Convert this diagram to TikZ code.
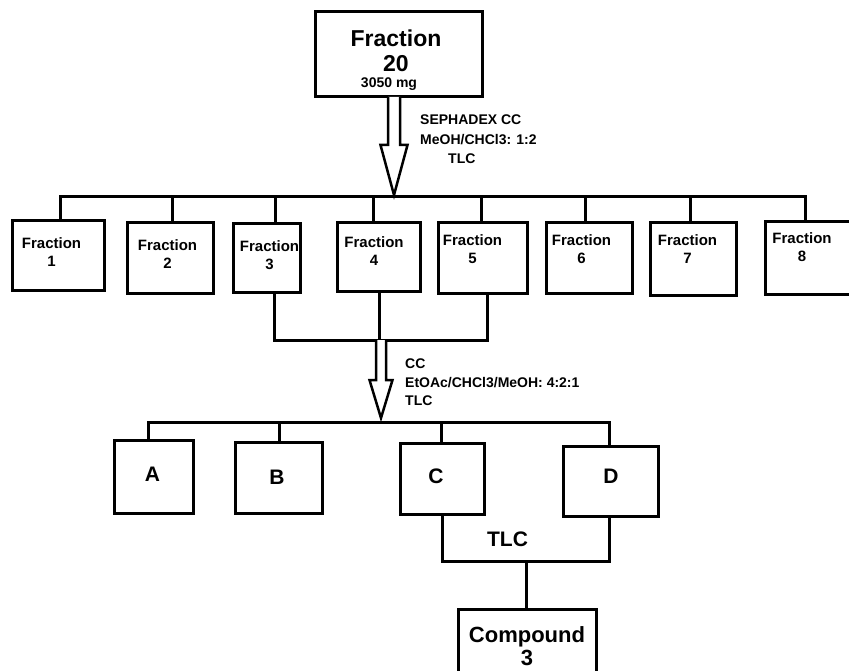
\documentclass[tikz,border=0pt]{standalone}
\usepackage{fontspec}
\setmainfont{Liberation Sans}
\usetikzlibrary{calc}

\begin{document}
\begin{tikzpicture}[x=1pt, y=-1pt,
	box/.style={draw, line width=3pt, inner sep=0pt},
	wire/.style={line width=3pt, line cap=rect},
	hollow/.style={draw, line width=2.5pt, fill=white},
	frac/.style={font=\fontsize{15}{18}\selectfont\bfseries, align=center, anchor=north, inner sep=0pt},
	note/.style={font=\fontsize{14}{19.5}\selectfont\bfseries, align=left, anchor=north west, inner sep=0pt},
	big/.style={font=\fontsize{21}{25}\selectfont\bfseries, inner sep=0pt}]

	\useasboundingbox (0,0) rectangle (849,671);
	\clip (0,0) rectangle (849,671);

	% starting fraction
	\node[box, minimum width=167pt, minimum height=85pt] (top) at (398.5,54.5) {};
	\node[font=\fontsize{23}{25}\selectfont\bfseries, align=center, anchor=north, inner sep=0pt] (topname) at (396,30) {Fraction\\20};
	\node[note, anchor=base] (topmass) at (389,88) {3050 mg};

	\coordinate (arr1) at (394,97);
	\coordinate (tip1) at (394,195);
	\draw[hollow] ($(arr1)+(-6,0)$) -- ($(arr1)+(-6,48)$) -- ($(arr1)+(-13.5,48)$) -- (tip1)
		-- ($(arr1)+(13.5,48)$) -- ($(arr1)+(6,48)$) -- ($(arr1)+(6,0)$);
	\node[note] (step1) at (420,115) {SEPHADEX CC\\MeOH/CHCl3: 1:2\\\hspace{28pt}TLC};

	% first column
	\node[box, minimum width=92pt, minimum height=69pt] (f1) at (58,255.5) {};
	\node[box, minimum width=86pt, minimum height=70pt] (f2) at (170,258) {};
	\node[box, minimum width=67pt, minimum height=68pt] (f3) at (266.5,258) {};
	\node[box, minimum width=83pt, minimum height=68pt] (f4) at (378.5,257) {};
	\node[box, minimum width=89pt, minimum height=70pt] (f5) at (482.5,258) {};
	\node[box, minimum width=86pt, minimum height=70pt] (f6) at (589,258) {};
	\node[box, minimum width=86pt, minimum height=72pt] (f7) at (693,259) {};
	\node[box, minimum width=105pt, minimum height=72pt] (f8) at (817.5,258) {};

	\node[frac] (f1t) at (51.5,237.5) {Fraction\\1};
	\node[frac] (f2t) at (167.5,239) {Fraction\\2};
	\node[frac] (f3t) at (269.5,240) {Fraction\\3};
	\node[frac] (f4t) at (374,236.5) {Fraction\\4};
	\node[frac] (f5t) at (472.5,234) {Fraction\\5};
	\node[frac] (f6t) at (581.5,234) {Fraction\\6};
	\node[frac] (f7t) at (687.5,234) {Fraction\\7};
	\node[frac] (f8t) at (802,232) {Fraction\\8};

	\draw[wire] (60,197) -- (805,197);
	\draw[wire] (60,197) -- (60,197 |- f1.north);
	\draw[wire] (172,197) -- (172,197 |- f2.north);
	\draw[wire] (275,197) -- (275,197 |- f3.north);
	\draw[wire] (373,197) -- (373,197 |- f4.north);
	\draw[wire] (481,197) -- (481,197 |- f5.north);
	\draw[wire] (585,197) -- (585,197 |- f6.north);
	\draw[wire] (690,197) -- (690,197 |- f7.north);
	\draw[wire] (805,197) -- (805,197 |- f8.north);

	% pooled fractions 3-5
	\draw[wire] (274,0 |- f3.south) -- (274,340) -- (487,340) -- (487,0 |- f5.south);
	\draw[wire] (379,0 |- f4.south) -- (379,340);

	\coordinate (arr2) at (381,340);
	\coordinate (tip2) at (381,418);
	\draw[hollow] ($(arr2)+(-5,0)$) -- ($(arr2)+(-5,40)$) -- ($(arr2)+(-11.5,40)$) -- (tip2)
		-- ($(arr2)+(11.5,40)$) -- ($(arr2)+(5,40)$) -- ($(arr2)+(5,0)$);
	\node[note, font=\fontsize{14}{18.5}\selectfont\bfseries] (step2) at (405,359) {CC\\EtOAc/CHCl3/MeOH: 4:2:1\\TLC};

	% second column
	\node[box, minimum width=79pt, minimum height=73pt] (a) at (153.5,476.5) {};
	\node[box, minimum width=87pt, minimum height=71pt] (b) at (278.5,477.5) {};
	\node[box, minimum width=84pt, minimum height=71pt] (c) at (442,478.5) {};
	\node[box, minimum width=95pt, minimum height=70pt] (d) at (610.5,481) {};

	\node[big] (at) at (152.5,474.5) {A};
	\node[big] (bt) at (277,477) {B};
	\node[big] (ct) at (436,476) {C};
	\node[big] (dt) at (611,476) {D};

	\draw[wire] (148,422) -- (609,422);
	\draw[wire] (148,422) -- (148,422 |- a.north);
	\draw[wire] (279,422) -- (279,422 |- b.north);
	\draw[wire] (441,422) -- (441,422 |- c.north);
	\draw[wire] (609,422) -- (609,422 |- d.north);

	% C and D to the compound
	\node[box, minimum width=138pt, minimum height=91pt] (comp) at (527,654.5) {};
	\node[frac, font=\fontsize{22}{23}\selectfont\bfseries] (compt) at (527,626) {Compound\\3};

	\draw[wire] (442,0 |- c.south) -- (442,561) -- (609,561) -- (609,0 |- d.south);
	\draw[wire] (526,561) -- (526,0 |- comp.north);
	\node[big] (tlc) at (507.5,539.5) {TLC};
\end{tikzpicture}
\end{document}
